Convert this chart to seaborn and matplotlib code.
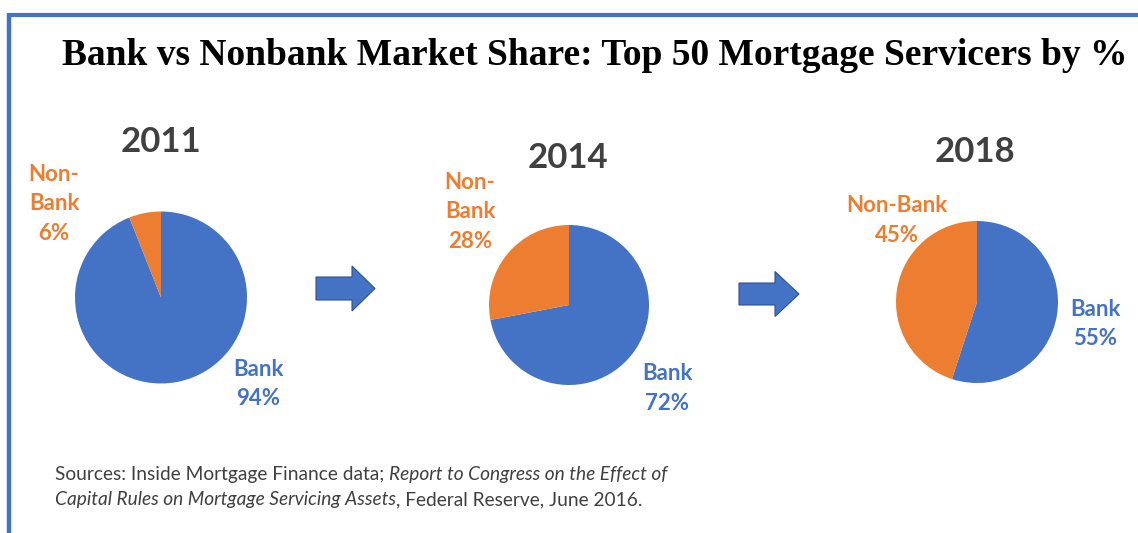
import matplotlib
matplotlib.use("Agg")
import matplotlib.pyplot as plt
from matplotlib.patches import FancyArrow
import seaborn as sns

# chart data
years = ["2011", "2014", "2018"]
bank_share = [94, 72, 55]
nonbank_share = [6, 28, 45]
bank_label = "Bank"
nonbank_labels = ["Non-\nBank", "Non-\nBank", "Non-Bank"]
title = "Bank vs Nonbank Market Share: Top 50 Mortgage Servicers by %"
source_parts = [
    [("Sources: Inside Mortgage Finance data; ", "normal"),
     ("Report to Congress on the Effect of", "italic")],
    [("Capital Rules on Mortgage Servicing Assets", "italic"),
     (", Federal Reserve, June 2016.", "normal")],
]

# layout (pixels, origin top-left)
W, H = 1138, 533
pie_centers = [(161, 297.5), (569, 305), (977, 302)]
pie_radii = [86, 80, 81]
year_pos = [(161, 152), (568, 168), (975, 162)]
nonbank_pos = [(54, 240), (470, 248), (897, 242)]
bank_pos = [(258, 405), (667, 410), (1095, 345)]
arrows = [(316, 288.5, 59, 23, 45, 23), (739, 294, 60, 22, 45, 24)]

BLUE = "#4472C4"
ORANGE = "#ED7D31"
DARK = "#404040"

sns.set_theme(style="white")
plt.rcParams["font.family"] = ["Lato", "DejaVu Sans"]

fig = plt.figure(figsize=(W / 100, H / 100), dpi=100)
fig.patch.set_facecolor("white")

ov = fig.add_axes([0, 0, 1, 1])
ov.set_xlim(0, W)
ov.set_ylim(H, 0)
ov.axis("off")

# frame lines (top and left)
ov.plot([7, W], [15, 15], color=BLUE, lw=3, solid_capstyle="butt")
ov.plot([9.3, 9.3], [13, H], color=BLUE, lw=3.2, solid_capstyle="butt")

ov.text(595, 65, title, ha="center", va="baseline", fontsize=27,
        fontweight="bold", family="Liberation Serif", color="black")

for i, year in enumerate(years):
    cx, cy = pie_centers[i]
    r = pie_radii[i]
    ax = fig.add_axes([(cx - r) / W, 1 - (cy + r) / H, 2 * r / W, 2 * r / H])
    ax.pie([bank_share[i], nonbank_share[i]], colors=[BLUE, ORANGE],
           startangle=90, counterclock=False,
           wedgeprops=dict(linewidth=0))
    ax.set_xlim(-1, 1)
    ax.set_ylim(-1, 1)
    ax.set_aspect("equal")
    ax.axis("off")

    ov.text(*year_pos[i], year, ha="center", va="baseline", fontsize=25,
            fontweight="bold", color=DARK)
    ov.text(*nonbank_pos[i], f"{nonbank_labels[i]}\n{nonbank_share[i]}%",
            ha="center", va="baseline", fontsize=16, fontweight="bold",
            color=ORANGE, linespacing=1.5, multialignment="center")
    ov.text(*bank_pos[i], f"{bank_label}\n{bank_share[i]}%",
            ha="center", va="baseline", fontsize=16, fontweight="bold",
            color=BLUE, linespacing=1.5, multialignment="center")

for x, y, dx, w, hw, hl in arrows:
    ov.add_patch(FancyArrow(x, y, dx, 0, width=w, head_width=hw,
                            head_length=hl, length_includes_head=True,
                            facecolor=BLUE, edgecolor="#2F528F", lw=0.8))

# source note, mixed upright / italic runs
line_y = [480, 505]
for parts, y in zip(source_parts, line_y):
    prev = None
    for txt, style in parts:
        if prev is None:
            prev = ov.text(55, y, txt, ha="left", va="baseline", fontsize=13.8,
                           style=style, color=DARK)
        else:
            prev = ov.annotate(txt, xy=(1, 0), xycoords=prev, ha="left",
                               va="bottom", fontsize=13.8, style=style,
                               color=DARK)

fig.savefig("out.png", dpi=100)
